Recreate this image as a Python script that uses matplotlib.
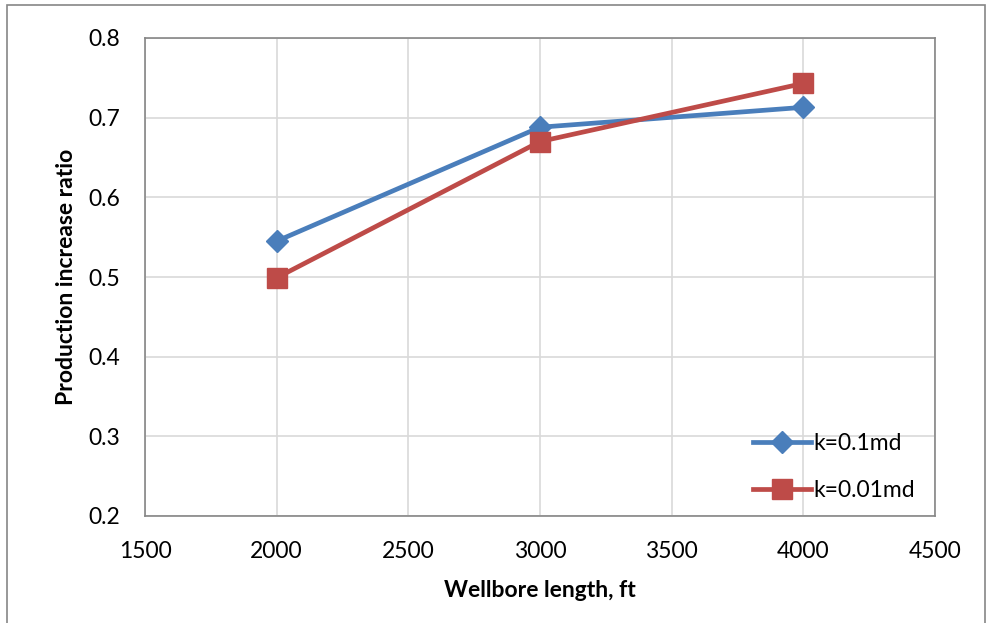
import matplotlib.pyplot as plt
from matplotlib.patches import Rectangle

# data
wellbore_length = [2000, 3000, 4000]
ratio_k01 = [0.545, 0.688, 0.713]
ratio_k001 = [0.499, 0.670, 0.743]
x_ticks = [1500, 2000, 2500, 3000, 3500, 4000, 4500]
y_ticks = [0.2, 0.3, 0.4, 0.5, 0.6, 0.7, 0.8]

plt.rcParams['font.family'] = ['Lato', 'DejaVu Sans']

fig = plt.figure(figsize=(9.89, 6.23), dpi=100)
ax = fig.add_axes([145 / 989, 1 - 516 / 623, 790 / 989, 478 / 623])

# outer chart border
fig.patches.append(Rectangle((7 / 989, -0.1), 978 / 989, 1.1 - 5 / 623,
                             transform=fig.transFigure, fill=False,
                             edgecolor='#868686', linewidth=1.2))

ax.plot(wellbore_length, ratio_k01, color='#4a7ebb', linewidth=3.4,
        marker='D', markersize=11, label='k=0.1md', zorder=3)
ax.plot(wellbore_length, ratio_k001, color='#be4b48', linewidth=3.4,
        marker='s', markersize=14, label='k=0.01md', zorder=3)

ax.set_xlim(1500, 4500)
ax.set_ylim(0.2, 0.8)
ax.set_xticks(x_ticks)
ax.set_yticks(y_ticks)
ax.set_yticklabels([f'{v:.1f}' for v in y_ticks])
ax.tick_params(length=0, labelsize=16.5, colors='black')
ax.tick_params(axis='x', pad=18)
ax.tick_params(axis='y', pad=18)
ax.grid(True, color='#d9d9d9', linewidth=1.2)
ax.set_axisbelow(True)
for s in ax.spines.values():
    s.set_color('#868686')
    s.set_linewidth(1.2)

ax.set_xlabel('Wellbore length, ft', fontsize=16.5, fontweight='bold', labelpad=13)
ax.set_ylabel('Production increase ratio', fontsize=16.5, fontweight='bold', labelpad=8)

ax.legend(loc='center left', bbox_to_anchor=(742 / 989, 1 - 467 / 623),
          bbox_transform=fig.transFigure, frameon=False, fontsize=16.5,
          handlelength=2.5, handletextpad=0.12, labelspacing=1.1, borderpad=0)

fig.savefig('out.png', dpi=100)
